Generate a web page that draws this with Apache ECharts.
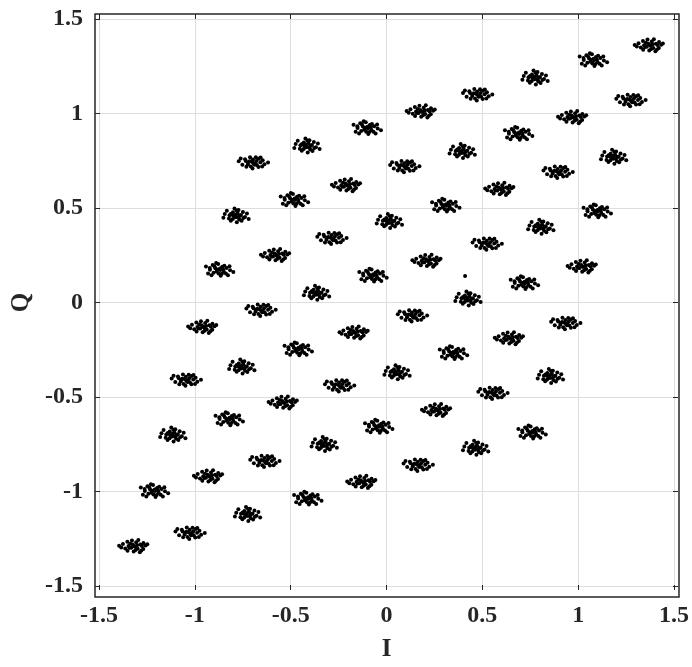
<!DOCTYPE html>
<html>
<head>
<meta charset="utf-8">
<script src="https://cdn.jsdelivr.net/npm/echarts@6/dist/echarts.min.js"></script>
<style>html,body{margin:0;padding:0;background:#fff}#c{width:692px;height:667px}</style>
</head>
<body>
<div id="c"></div>
<script>
// Cluster centres (I, Q)
const centersI = [
  -1.32,-1.03,-0.73,-0.42,-0.13, 0.16, 0.46, 0.75,
  -1.22,-0.93,-0.64,-0.33,-0.05, 0.26, 0.55, 0.85,
  -1.12,-0.83,-0.54,-0.25, 0.05, 0.34, 0.64, 0.93,
  -1.05,-0.76,-0.47,-0.17, 0.13, 0.42, 0.71, 1.02,
  -0.96,-0.66,-0.37,-0.08, 0.21, 0.52, 0.80, 1.09,
  -0.88,-0.58,-0.29, 0.01, 0.30, 0.59, 0.89, 1.18,
  -0.79,-0.49,-0.21, 0.09, 0.39, 0.68, 0.97, 1.27,
  -0.70,-0.42,-0.11, 0.18, 0.47, 0.77, 1.07, 1.37
];
const centersQ = [
  -1.29,-1.22,-1.12,-1.04,-0.95,-0.86,-0.77,-0.69,
  -1.00,-0.92,-0.84,-0.75,-0.66,-0.57,-0.48,-0.39,
  -0.70,-0.62,-0.53,-0.44,-0.37,-0.27,-0.19,-0.11,
  -0.41,-0.34,-0.25,-0.16,-0.07, 0.02, 0.10, 0.19,
  -0.13,-0.04, 0.05, 0.14, 0.22, 0.31, 0.40, 0.48,
   0.17, 0.25, 0.34, 0.43, 0.51, 0.60, 0.69, 0.77,
   0.46, 0.54, 0.62, 0.72, 0.80, 0.89, 0.98, 1.07,
   0.74, 0.83, 0.92, 1.01, 1.10, 1.19, 1.28, 1.36
];
// Scatter shapes of the clusters (offsets in hundredths), read from several clusters
const offsetA = [[-5.5,1.2],[-3.2,2.4],[-2.1,-0.8],[0.3,0.2],[1.4,2.1],[2.2,-1.3],[3.6,0.9],[4.1,-2.2],[6.3,0.4],[-0.8,3.1],[0.1,-2.7],[2.5,3.3],[-4.3,-1.1],[5.2,1.8],[-6.4,-0.6],[1.1,-1.9],[3.3,-3.1],[-1.7,1.4],[7.2,1.1],[-3.1,-2.3],[-0.4,0.9],[4.4,0.2],[-1.2,-0.7],[1.9,0.6],[-7.5,0.3],[5.1,-1.4],[0.8,-0.2],[-2.6,0.1]];
const offsetB = [[-6.2,2.1],[-4.1,0.3],[-2.7,2.8],[-1.3,1.1],[0.4,-1.6],[1.2,0.2],[2.3,1.9],[3.1,-0.7],[4.6,1.3],[5.3,-2.6],[-2.2,-1.2],[0.2,3.4],[1.5,-2.9],[6.4,0.1],[-5.1,-1.7],[-0.9,3.9],[3.4,2.5],[2.1,-1.8],[-3.3,-2.6],[8.1,-0.9],[-1.8,2.2],[-0.2,0.4],[4.2,-1.7],[1.1,1.0],[-4.2,1.3],[6.1,2.2],[-0.6,-0.6],[2.8,0.5]];
const offsetC = [[-4.3,2.6],[-2.9,0.2],[-2.2,-2.7],[-1.1,1.7],[0.2,-0.9],[-0.3,3.8],[1.3,1.2],[2.2,-2.1],[3.1,0.3],[1.8,2.9],[-1.2,-1.8],[4.1,1.9],[5.2,-0.8],[-5.4,0.8],[0.9,-3.6],[3.4,-2.8],[-2.1,0.9],[0.4,0.6],[6.2,1.1],[-6.1,-1.2],[2.3,-0.2],[-3.2,-1.6],[4.3,-1.3],[0.8,2.7],[-0.7,-0.2],[7.1,-1.8],[1.6,-0.9],[-1.5,0.4]];
const offsetD = [[-7.1,0.8],[-5.2,-1.1],[-3.8,1.8],[-2.2,0.2],[-0.8,-2.1],[0.3,1.7],[1.2,-0.3],[2.4,-1.2],[3.3,2.1],[4.2,0.2],[5.4,1.2],[-3.1,-2.2],[0.1,-3.1],[1.8,2.8],[6.3,-0.9],[-1.2,2.9],[3.2,-2.3],[-6.1,2.2],[1.1,-1.1],[4.3,2.7],[-2.3,-0.8],[-0.1,0.3],[5.1,-2.1],[-3.4,0.9],[2.1,0.9],[8.2,0.1],[-1.4,0.7],[0.7,-0.4]];
// Stray point
const strayI = [0.41];
const strayQ = [0.14];
// Tick values
const ticks = [-1.5, -1, -0.5, 0, 0.5, 1, 1.5];

const patterns = [offsetA, offsetB, offsetC, offsetD];
const pts = [];
for (let k = 0; k < centersI.length; k++) {
  const p = patterns[(k * 3 + Math.floor(k / 8)) % 4];
  for (const o of p) pts.push([centersI[k] + o[0] / 100, centersQ[k] + o[1] / 100]);
}
for (let k = 0; k < strayI.length; k++) pts.push([strayI[k], strayQ[k]]);

const dark = '#262626';
const font = '"Liberation Serif","Times New Roman",serif';
const lbl = {color: dark, fontFamily: font, fontWeight: 'bold', fontSize: 24};
const mk = (pos, off, show, extra) => Object.assign({
  type: 'value', position: pos, offset: off,
  min: ticks[0], max: ticks[ticks.length - 1], interval: 0.5,
  axisLine: {show: false, onZero: false},
  axisTick: {show: true, inside: true, length: 5, lineStyle: {color: dark, width: 1}},
  axisLabel: show ? Object.assign({margin: 14}, lbl) : {show: false},
  splitLine: {show: show, lineStyle: {color: '#dedede', width: 1}}
}, extra || {});

const chart = echarts.init(document.getElementById('c'), null, {renderer: 'canvas'});
chart.setOption({
  animation: false,
  backgroundColor: '#fff',
  grid: {left: 99, right: 17, top: 19, bottom: 74, containLabel: false},
  xAxis: [
    mk('bottom', 4, true, {name: 'I', nameLocation: 'middle', nameGap: 47,
      nameTextStyle: {color: dark, fontFamily: font, fontWeight: 'bold', fontSize: 25}}),
    mk('top', 5, false)
  ],
  yAxis: [
    mk('left', 4, true, {name: 'Q', nameLocation: 'middle', nameGap: 58,
      nameTextStyle: {color: dark, fontFamily: font, fontWeight: 'bold', fontSize: 25},
      axisLabel: Object.assign({}, lbl, {margin: 12})}),
    mk('right', 4, false)
  ],
  graphic: [{
    type: 'rect', z: 100, silent: true,
    shape: {x: 95, y: 14, width: 584, height: 583},
    style: {fill: 'none', stroke: dark, lineWidth: 1.5}
  }],
  series: [{
    type: 'scatter', xAxisIndex: 0, yAxisIndex: 0,
    data: pts, symbolSize: 4,
    itemStyle: {color: '#000', opacity: 1}
  }]
});
</script>
</body>
</html>
